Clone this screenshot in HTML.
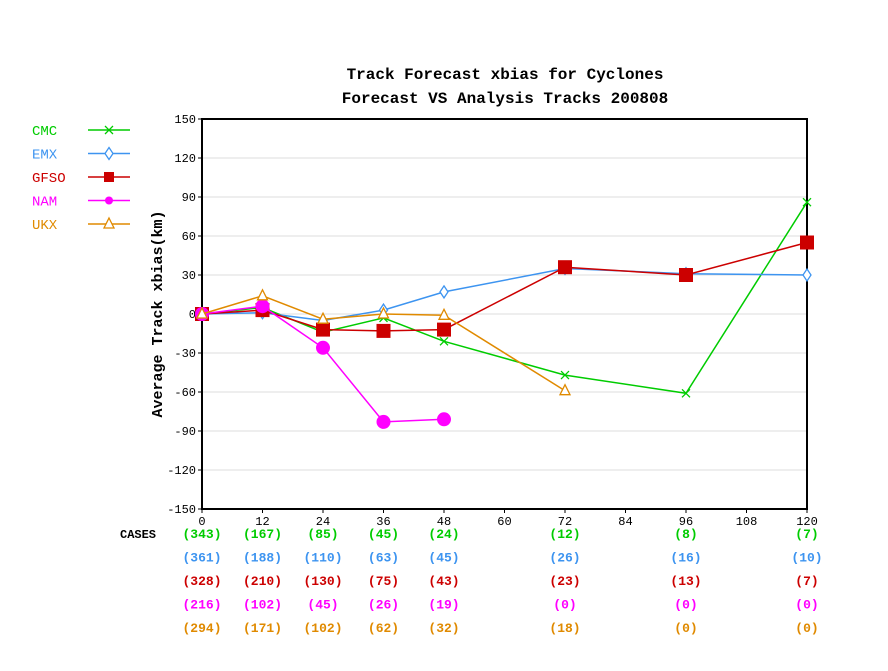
<!DOCTYPE html>
<html><head><meta charset="utf-8"><style>
body{margin:0;background:#fff;}
svg text{font-family:"Liberation Mono",monospace;}
</style></head><body>
<svg id="chart" width="888" height="666" xmlns="http://www.w3.org/2000/svg">
<rect width="888" height="666" fill="#fff"/>
<text x="505" y="79" text-anchor="middle" font-size="16" font-weight="bold">Track Forecast xbias for Cyclones</text>
<text x="505" y="103" text-anchor="middle" font-size="16" font-weight="bold">Forecast VS Analysis Tracks 200808</text>
<text transform="translate(162,314) rotate(-90)" text-anchor="middle" font-size="15" font-weight="bold">Average Track xbias(km)</text>
<g id="grid"></g><g id="axes"></g><g id="series"></g><g id="legend"></g><g id="cases"></g>
</svg>
<script>
const hours=[0,12,24,36,48,60,72,84,96,108,120];
const yTicks=[150,120,90,60,30,0,-30,-60,-90,-120,-150];
const seriesNames=["CMC","EMX","GFSO","NAM","UKX"];
const cmcX=[0,12,24,36,48,72,96,120];
const cmcY=[0,5,-14,-3,-21,-47,-61,86];
const emxX=[0,12,24,36,48,72,96,120];
const emxY=[0,1,-5,3,17,35,31,30];
const gfsoX=[0,12,24,36,48,72,96,120];
const gfsoY=[0,3,-12,-13,-12,36,30,55];
const namX=[0,12,24,36,48];
const namY=[0,6,-26,-83,-81];
const ukxX=[0,12,24,36,48,72];
const ukxY=[0,14,-4,0,-1,-59];
const caseHours=[0,12,24,36,48,72,96,120];
const cmcCases=[343,167,85,45,24,12,8,7];
const emxCases=[361,188,110,63,45,26,16,10];
const gfsoCases=[328,210,130,75,43,23,13,7];
const namCases=[216,102,45,26,19,0,0,0];
const ukxCases=[294,171,102,62,32,18,0,0];

const NS="http://www.w3.org/2000/svg";
const X0=202,X1=807,Y0=119,Y1=509;
const xs=h=>X0+(h/120)*(X1-X0);
const ys=v=>Y1-((v+150)/300)*(Y1-Y0);
function mk(tag,attrs,parent){const e=document.createElementNS(NS,tag);for(const k in attrs)e.setAttribute(k,attrs[k]);parent.appendChild(e);return e;}
const grid=document.getElementById('grid'),axes=document.getElementById('axes'),ser=document.getElementById('series'),leg=document.getElementById('legend'),cases=document.getElementById('cases');
yTicks.forEach(t=>{
  if(t!==150&&t!==-150){const l=mk('line',{x1:X0,x2:X1,y1:ys(t),y2:ys(t),stroke:'#ddd','stroke-width':1},grid);
  
  }
  const tk=mk('line',{x1:X0-4,x2:X0,y1:ys(t),y2:ys(t),stroke:'#000'},axes);
  
  
  const tx=mk('text',{x:X0-6,y:ys(t)+4,'text-anchor':'end','font-size':12,'font-family':'Liberation Sans'},axes);tx.textContent=t;
  
  
});
const fr=mk('rect',{x:X0,y:Y0,width:X1-X0,height:Y1-Y0,fill:'none',stroke:'#000','stroke-width':2},axes);


hours.forEach(h=>{
  const tk=mk('line',{x1:xs(h),x2:xs(h),y1:Y1,y2:Y1+4,stroke:'#000'},axes);
  
  
  const tx=mk('text',{x:xs(h),y:525,'text-anchor':'middle','font-size':12,'font-family':'Liberation Sans'},axes);tx.textContent=h;
  
  
});
const colors=["#00cc00","#3d94f0","#cc0000","#ff00ff","#e08a00"];
const allX=[cmcX,emxX,gfsoX,namX,ukxX],allY=[cmcY,emxY,gfsoY,namY,ukxY];
const allCases=[cmcCases,emxCases,gfsoCases,namCases,ukxCases];
function marker(i,x,y,g){const c=colors[i];let m;
  if(i===0){m=mk('path',{d:`M${x-4},${y-4}L${x+4},${y+4}M${x-4},${y+4}L${x+4},${y-4}`,stroke:c,'stroke-width':1.3,fill:'none'},g);}
  else if(i===1){m=mk('path',{d:`M${x},${y-6}L${x+4},${y}L${x},${y+6}L${x-4},${y}Z`,stroke:c,'stroke-width':1.3,fill:'#fff'},g);}
  else if(i===2){m=mk('rect',{x:x-7,y:y-7,width:14,height:14,fill:c},g);}
  else if(i===3){m=mk('circle',{cx:x,cy:y,r:7,fill:c},g);}
  else {m=mk('path',{d:`M${x},${y-6}L${x+5},${y+4}L${x-5},${y+4}Z`,stroke:c,'stroke-width':1.3,fill:'#fff'},g);}
  return m;}
seriesNames.forEach((n,i)=>{
  const g=mk('g',{},ser);
  
  
  const pts=allX[i].map((h,j)=>xs(h)+','+ys(allY[i][j])).join(' ');
  const pl=mk('polyline',{points:pts,fill:'none',stroke:colors[i],'stroke-width':1.5},g);
  
  
  allX[i].forEach((h,j)=>{const m=marker(i,xs(h),ys(allY[i][j]),g);
    
    });
  const ly=130+i*23.5;
  const lt=mk('text',{x:32,y:ly+5,'font-size':14,fill:colors[i]},leg);lt.textContent=n;
  
  
  const ll=mk('line',{x1:88,x2:130,y1:ly,y2:ly,stroke:colors[i],'stroke-width':1.5},leg);
  
  
  const lm=marker(i,109,ly,leg);
  if(i===2){lm.setAttribute('x',104);lm.setAttribute('y',ly-5);lm.setAttribute('width',10);lm.setAttribute('height',10);}
  if(i===3){lm.setAttribute('r',4);}
  
  
  caseHours.forEach((h,j)=>{const t=mk('text',{x:xs(h),y:538+i*23.5,'text-anchor':'middle','font-size':13,'font-weight':'bold',fill:colors[i]},cases);
    t.textContent='('+allCases[i][j]+')';
    
    });
});
const cl=mk('text',{x:120,y:538,'font-size':12,'font-weight':'bold'},cases);cl.textContent='CASES';


</script>
</body></html>
